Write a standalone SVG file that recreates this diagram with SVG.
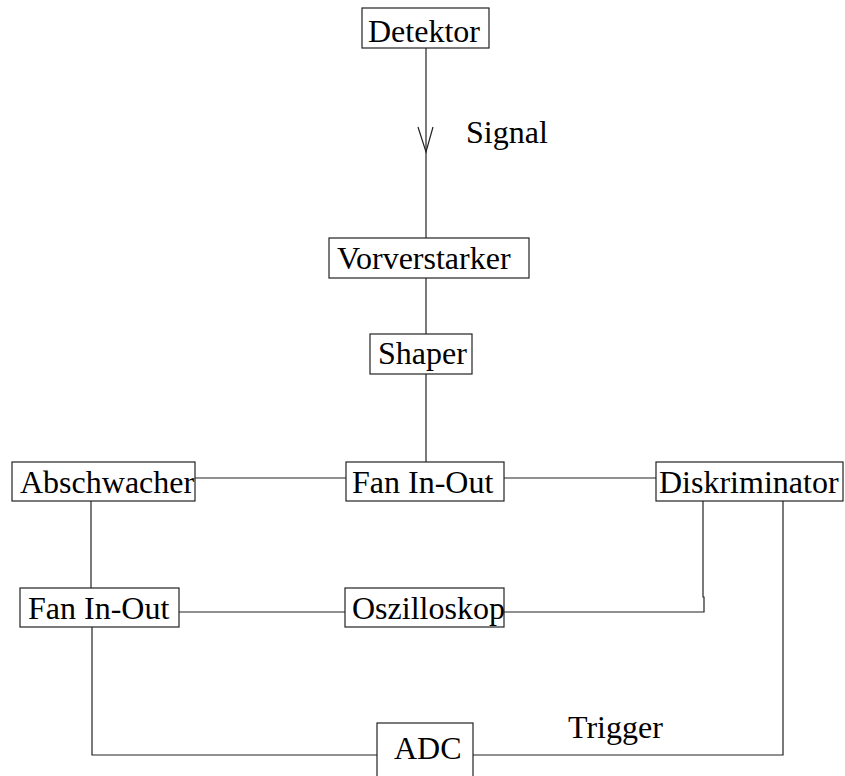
<svg xmlns="http://www.w3.org/2000/svg" width="845" height="776" viewBox="0 0 845 776">
<style>
.box{fill:#fff;stroke:#222;stroke-width:1.2}
.t{font-family:"Liberation Serif","Times New Roman",serif;font-size:32px;fill:#000}
.c{fill:none;stroke:#222;stroke-width:1.2}
</style>
<rect width="845" height="776" fill="#fff"/>
<g id="connectors">
<line class="c" x1="426" y1="48" x2="426" y2="238"/>
<polyline class="c" points="418,127 426,152 433,127"/>
<line class="c" x1="426" y1="278" x2="426" y2="334"/>
<line class="c" x1="426" y1="374" x2="426" y2="462"/>
<line class="c" x1="195" y1="478" x2="346" y2="478"/>
<line class="c" x1="504" y1="478" x2="656" y2="478"/>
<line class="c" x1="91" y1="501" x2="91" y2="588"/>
<line class="c" x1="179" y1="612" x2="345" y2="612"/>
<polyline class="c" points="504,612 704,612 704,597 703,597 703,501"/>
<polyline class="c" points="92,627 92,755 377,755"/>
<polyline class="c" points="473,755 783,755 783,501"/>
<text class="t" x="466" y="143">Signal</text>
<text class="t" x="568" y="738">Trigger</text>
</g>
<g id="detektor"><rect class="box" x="362" y="8" width="127" height="40"/><text class="t" x="368" y="42">Detektor</text></g>
<g id="vorverstarker"><rect class="box" x="329" y="238" width="200" height="40"/><text class="t" x="337" y="269">Vorverstarker</text></g>
<g id="shaper"><rect class="box" x="370" y="334" width="102" height="40"/><text class="t" x="378" y="364">Shaper</text></g>
<g id="abschwacher"><rect class="box" x="12" y="462" width="183" height="39"/><text class="t" x="20" y="493">Abschwacher</text></g>
<g id="fan1"><rect class="box" x="346" y="462" width="158" height="39"/><text class="t" x="352" y="493">Fan In-Out</text></g>
<g id="diskriminator"><rect class="box" x="656" y="462" width="187" height="39"/><text class="t" x="659" y="493">Diskriminator</text></g>
<g id="fan2"><rect class="box" x="20" y="588" width="159" height="39"/><text class="t" x="28" y="619">Fan In-Out</text></g>
<g id="oszilloskop"><rect class="box" x="345" y="588" width="159" height="39"/><text class="t" x="352" y="619">Oszilloskop</text></g>
<g id="adc"><rect class="box" x="377" y="723" width="96" height="60"/><text class="t" x="394" y="759">ADC</text></g>
</svg>
